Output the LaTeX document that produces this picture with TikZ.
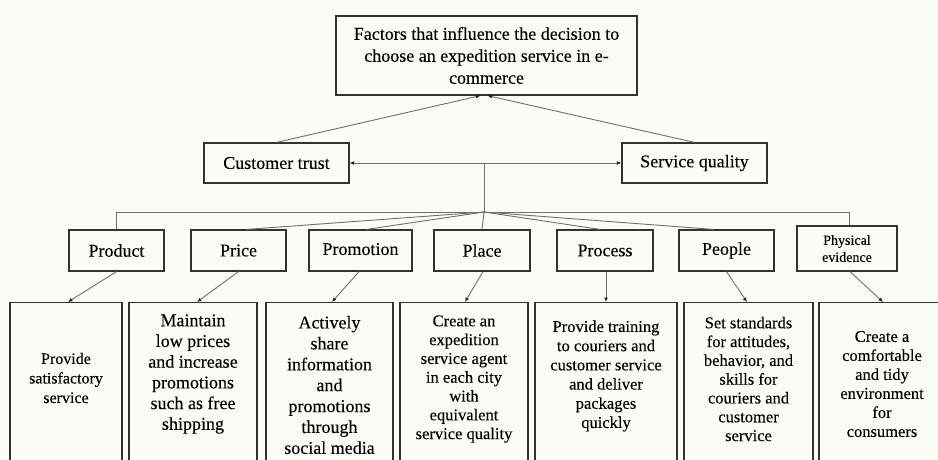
\documentclass[tikz,border=0pt]{standalone}
\usepackage{fontspec}
\setmainfont{Liberation Serif}[FakeBold=0.15]
\usetikzlibrary{arrows.meta}
\definecolor{paper}{HTML}{FCFCF6}
\definecolor{edge}{HTML}{333333}
\definecolor{wire}{HTML}{6E6E6E}
\begin{document}
\begin{tikzpicture}[x=1pt,y=-1pt,
  box/.style={draw=edge,line width=1.2pt,rectangle,inner sep=0pt,align=center},
  big/.style={font=\fontsize{18}{22}\selectfont},
  small/.style={font=\fontsize{14}{17}\selectfont},
  leaf/.style={box,anchor=north,minimum height=180pt},
  leaftext/.style={align=center,inner sep=0pt},
  conn/.style={draw=wire,line width=0.9pt},
  tip/.tip={Latex[length=4.5pt,width=4pt,color=black!85]},
  arr/.style={conn,-tip},
  darr/.style={conn,tip-tip}
]
\useasboundingbox (0,0) rectangle (938,459);
\fill[paper] (0,0) rectangle (938,459);
\clip (0,0) rectangle (938,459);

% top goal
\node[box,big,minimum width=301pt,minimum height=79pt] (goal) at (486.5,55.5)
  {Factors that influence the decision to\\choose an expedition service in e-\\commerce};

% two main factors
\node[box,big,minimum width=145pt,minimum height=40pt] (trust) at (276.5,163) {Customer trust};
\node[box,big,minimum width=145pt,minimum height=40pt] (quality) at (694.5,163) {Service quality};

\draw[arr] (trust.north) -- ([xshift=-6pt]goal.south);
\draw[arr] (quality.north) -- ([xshift=1pt]goal.south);
\draw[darr] (trust.east) -- (quality.west);

% the 7P elements
\node[box,big,minimum width=95pt,minimum height=41pt] (product) at (116.5,250.5) {Product};
\node[box,big,minimum width=95pt,minimum height=41pt] (price) at (238.5,250.5) {Price};
\node[box,big,minimum width=103pt,minimum height=41pt] (promo) at (360.5,250.5) {\raisebox{3pt}{Promotion}};
\node[box,big,minimum width=96pt,minimum height=41pt] (place) at (482,250.5) {Place};
\node[box,big,minimum width=96pt,minimum height=41pt] (process) at (605,250.5) {Process};
\node[box,big,minimum width=95pt,minimum height=41pt] (people) at (726.5,250.5) {People};
\node[box,small,minimum width=100pt,minimum height=45pt] (phys) at (847,248.5) {Physical\\evidence};

% branching from the two factors
\coordinate (hub) at (484,212);
\draw[conn] (hub |- trust.east) -- (hub);
\draw[conn] (hub) -- (product.north |- hub) -- (product.north);
\draw[conn] (hub) -- ([xshift=2pt]phys.north |- hub) -- ([xshift=2pt]phys.north);
\draw[conn] (hub) -- ([xshift=8pt]price.north);
\draw[conn] (hub) -- ([xshift=6pt]promo.north);
\draw[conn] (hub) -- (place.north);
\draw[conn] (hub) -- ([xshift=-5pt]process.north);
\draw[conn] (hub) -- ([xshift=-13pt]people.north);

% strategies
\node[leaf,minimum width=112pt] (s1) at (66,302) {};
\node[leaf,minimum width=128pt] (s2) at (193,302) {};
\node[leaf,minimum width=127pt] (s3) at (329.5,302) {};
\node[leaf,minimum width=128pt] (s4) at (464,302) {};
\node[leaf,minimum width=142pt] (s5) at (606,302) {};
\node[leaf,minimum width=129pt] (s6) at (748.5,302) {};
\node[leaf,minimum width=128pt] (s7) at (883,302) {};

\node[leaftext,font=\fontsize{16}{19.5}\selectfont] (t1) at (66,378)
  {Provide\\satisfactory\\service};
\node[leaftext,font=\fontsize{18}{20.7}\selectfont] (t2) at (193,374)
  {Maintain\\low prices\\and increase\\promotions\\such as free\\shipping};
\node[leaftext,font=\fontsize{18}{20.9}\selectfont] (t3) at (329.5,385)
  {Actively\\share\\information\\and\\promotions\\through\\social media};
\node[leaftext,font=\fontsize{16.5}{18.8}\selectfont] (t4) at (464,379)
  {Create an\\expedition\\service agent\\in each city\\with\\equivalent\\service quality};
\node[leaftext,font=\fontsize{16.5}{19.2}\selectfont] (t5) at (606,376)
  {Provide training\\to couriers and\\customer service\\and deliver\\packages\\quickly};
\node[leaftext,font=\fontsize{16.5}{18.8}\selectfont] (t6) at (748.5,379)
  {Set standards\\for attitudes,\\behavior, and\\skills for\\couriers and\\customer\\service};
\node[leaftext,font=\fontsize{16.5}{19}\selectfont] (t7) at (882,384)
  {Create a\\comfortable\\and tidy\\environment\\for\\consumers};

\draw[arr] (product.south) -- ([xshift=2pt]s1.north);
\draw[arr] (price.south) -- ([xshift=4pt]s2.north);
\draw[arr] ([xshift=-1.5pt]promo.south) -- ([xshift=2.5pt]s3.north);
\draw[arr] ([xshift=1pt]place.south) -- ([xshift=1pt]s4.north);
\draw[arr] ([xshift=1pt]process.south) -- (s5.north);
\draw[arr] (people.south) -- ([xshift=-1.5pt]s6.north);
\draw[arr] ([xshift=3pt]phys.south) -- (s7.north);
\end{tikzpicture}
\end{document}
